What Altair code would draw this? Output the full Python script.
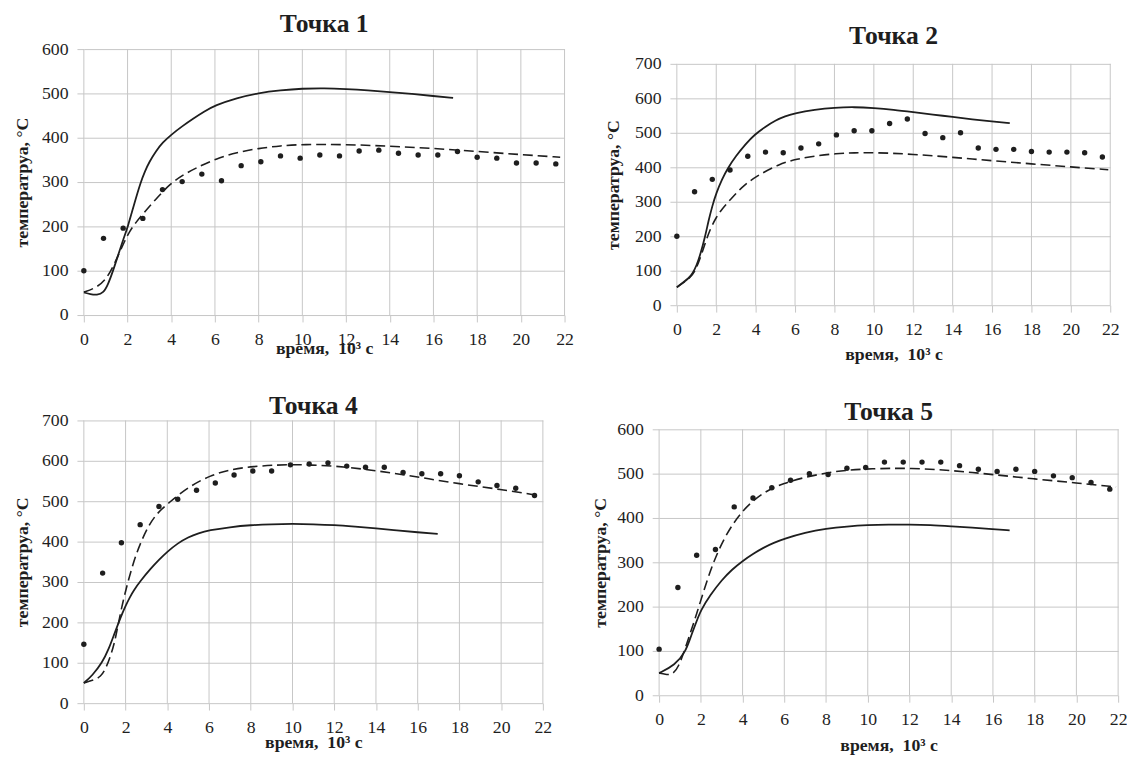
import altair as alt
import pandas as pd

# ---------------- data ----------------
dot_t = [0, 0.9, 1.8, 2.7, 3.6, 4.5, 5.4, 6.3, 7.2, 8.1, 9.0, 9.9, 10.8, 11.7,
         12.6, 13.5, 14.4, 15.3, 16.2, 17.1, 18.0, 18.9, 19.8, 20.7, 21.6]

# Точка 1
p1_dots = [100, 173, 196, 218, 283, 301, 318, 303, 337, 346, 359, 354, 361, 359,
           370, 372, 365, 361, 361, 369, 356, 354, 343, 343, 341]
p1_solid_t = [0, 0.3, 0.6, 0.9, 1.1, 1.34, 1.6, 1.8, 2.02, 2.3, 2.6, 2.8, 3.0, 3.3,
              3.6, 4.0, 4.5, 5.0, 5.5, 6.0, 7.0, 8.0, 9.0, 10.0, 11.0, 12.0, 13.0,
              14.0, 15.0, 16.0, 16.9]
p1_solid = [51, 47, 45, 50, 68, 100, 140, 170, 200, 250, 300, 325, 346, 370,
            389, 407, 426, 443, 459, 473, 490, 501, 507, 511, 512, 510, 507,
            503, 499, 494, 490]
p1_dash_t = [0, 0.5, 1.0, 1.4, 1.8, 2.1, 2.4, 2.7, 3.3, 3.95, 4.5, 5.1, 6.06, 7.0,
             8.0, 9.0, 10.0, 12.0, 14.0, 16.0, 18.0, 20.0, 21.8]
p1_dash = [52, 60, 78, 115, 160, 190, 210, 228, 262, 296, 315, 331, 353, 367,
           376, 382, 385, 385, 381, 376, 369, 362, 356]

# Точка 2
p2_dots = [200, 329, 365, 392, 432, 444, 442, 456, 468, 494, 506, 506, 527, 540,
           498, 486, 500, 456, 452, 452, 446, 444, 444, 442, 430]
p2_solid_t = [0, 0.3, 0.6, 0.8, 1.0, 1.2, 1.44, 1.6, 1.8, 2.0, 2.3, 2.56, 3.0, 3.5,
              3.93, 4.5, 5.0, 5.5, 6.0, 7.0, 8.0, 9.0, 10.0, 11.0, 12.0, 13.0,
              14.0, 15.0, 16.0, 16.9]
p2_solid = [52, 65, 78, 92, 115, 148, 200, 243, 288, 325, 366, 395, 433, 468,
            494, 518, 536, 548, 557, 567, 573, 575, 572, 567, 560, 553,
            546, 539, 533, 528]
p2_dash_t = [0, 0.72, 1.0, 1.44, 1.7, 2.0, 2.3, 2.7, 3.3, 4.0, 5.2, 6.1, 7.0, 8.1,
             9.0, 10.0, 12.0, 14.0, 16.0, 18.0, 20.0, 21.9]
p2_dash = [52, 81, 105, 180, 222, 255, 280, 305, 343, 373, 410, 424, 433, 440,
           442, 443, 438, 429, 419, 410, 401, 393]

# Точка 4
p4_dots = [146, 322, 397, 442, 487, 505, 527, 545, 565, 575, 575, 590, 592, 595,
           587, 584, 584, 571, 568, 568, 563, 548, 539, 532, 514]
p4_solid_t = [0, 0.4, 0.88, 1.2, 1.45, 1.67, 1.85, 2.0, 2.2, 2.4, 2.72, 3.2, 3.6,
              4.0, 4.5, 5.0, 5.5, 6.0, 7.0, 8.0, 9.0, 10.0, 11.0, 12.0, 13.0,
              14.0, 15.0, 16.0, 16.96]
p4_solid = [50, 68, 100, 135, 170, 200, 223, 241, 262, 280, 303, 333, 355,
            375, 396, 411, 421, 428, 436, 441, 443, 444, 443, 441, 437,
            433, 428, 423, 419]
p4_dash_t = [0, 0.5, 0.8, 1.05, 1.3, 1.5, 1.85, 2.37, 2.7, 3.08, 3.5, 4.04, 5.0,
             6.06, 7.0, 8.0, 9.9, 12.0, 14.0, 16.0, 18.0, 20.0, 21.7]
p4_dash = [50, 58, 65, 85, 120, 154, 251, 349, 395, 438, 470, 495, 535,
           564, 578, 586, 592, 588, 576, 560, 543, 529, 515]

# Точка 5
p5_dots = [104, 243, 316, 329, 425, 445, 468, 485, 500, 498, 512, 514, 526, 526,
           526, 526, 518, 510, 505, 510, 505, 495, 491, 480, 465]
p5_solid_t = [0, 0.76, 1.27, 1.5, 1.78, 2.0, 2.45, 3.0, 3.5, 4.0, 4.5, 5.0, 5.5,
              6.0, 7.0, 8.0, 9.0, 10.0, 11.0, 12.0, 13.0, 14.0, 15.0, 16.0, 16.8]
p5_solid = [50, 68, 98, 130, 165, 192, 226, 260, 284, 303, 319, 333, 344,
            353, 367, 376, 381, 384, 385, 385, 384, 381, 378, 375, 372]
p5_dash_t = [0, 0.3, 0.6, 0.93, 1.35, 1.78, 2.45, 3.13, 3.98, 5.0, 6.0, 7.0, 8.04,
             9.0, 10.07, 12.1, 14.1, 16.0, 18.0, 20.0, 21.9]
p5_dash = [50, 47, 46, 61, 120, 180, 284, 358, 418, 459, 479, 492, 502,
           508, 511, 513, 507, 498, 488, 479, 470]

x_ticks = list(range(0, 23, 2))
x_title = "время,\u00a0 10³ с"
y_title = "температруа, °С"

SERIF = "Liberation Serif"
GRID = "#c6c6c6"
INK = "#1e1e1e"


def panel(title, ymax, st, sy, dt, dy, dots, w, h, top_gap, t_off,
          y_tpad, x_tpad):
    xs = alt.Scale(domain=[0, 22], nice=False)
    ys = alt.Scale(domain=[0, ymax], nice=False, range=[h, top_gap])
    xa = alt.Axis(values=x_ticks, title=x_title, grid=False, titlePadding=x_tpad)
    ya = alt.Axis(values=list(range(0, ymax + 1, 100)), title=y_title,
                  grid=True, titlePadding=y_tpad)

    def enc(ch):
        return ch.encode(x=alt.X("t:Q", scale=xs, axis=xa),
                         y=alt.Y("v:Q", scale=ys, axis=ya))

    vgrid = alt.Chart(pd.DataFrame({"t": x_ticks, "v": [0] * len(x_ticks),
                                    "v2": [ymax] * len(x_ticks)})).mark_rule(
        color=GRID, strokeWidth=1
    ).encode(x=alt.X("t:Q", scale=xs, axis=xa),
             y=alt.Y("v:Q", scale=ys, axis=ya), y2="v2:Q")

    solid = enc(alt.Chart(pd.DataFrame({"t": st, "v": sy})).mark_line(
        color=INK, strokeWidth=1.8, interpolate="basis"))
    dashed = enc(alt.Chart(pd.DataFrame({"t": dt, "v": dy})).mark_line(
        color=INK, strokeWidth=1.6, strokeDash=[10, 5], interpolate="basis"))
    pts = enc(alt.Chart(pd.DataFrame({"t": dot_t, "v": dots})).mark_circle(
        color=INK, size=30, opacity=1))

    return alt.layer(vgrid, solid, dashed, pts).properties(
        width=w, height=h,
        title=alt.TitleParams(title, font=SERIF, fontSize=26, fontWeight="bold",
                              color=INK, offset=t_off),
    )


c1 = panel("Точка 1", 600, p1_solid_t, p1_solid, p1_dash_t, p1_dash, p1_dots,
           488, 270, 0, 3, 10, -9)
c2 = panel("Точка 2", 700, p2_solid_t, p2_solid, p2_dash_t, p2_dash, p2_dots,
           440, 260, 15, 0, 12, 7)
c4 = panel("Точка 4", 700, p4_solid_t, p4_solid, p4_dash_t, p4_dash, p4_dots,
           466, 287, 0, -7, 10, -3)
c5 = panel("Точка 5", 600, p5_solid_t, p5_solid, p5_dash_t, p5_dash, p5_dots,
           466, 279, 9, -5, 7, 8)

top = alt.hconcat(c1, c2, spacing=32)
bottom = alt.hconcat(c4, c5, spacing=41)

chart = alt.vconcat(top, bottom, spacing=30).configure_view(
    strokeWidth=0
).configure_axis(
    gridColor=GRID, gridWidth=1, tickColor=GRID, tickSize=7, domain=False,
    labelFont=SERIF, labelFontSize=18, labelColor=INK, labelPadding=9,
    labelFlush=False,
    titleFont=SERIF, titleFontSize=18, titleFontWeight="bold", titleColor=INK,
).properties(background="white", padding={"left": 6, "top": -2, "right": 0, "bottom": 0})

chart.save("out.html", embed_options={"renderer": "svg", "actions": False})
